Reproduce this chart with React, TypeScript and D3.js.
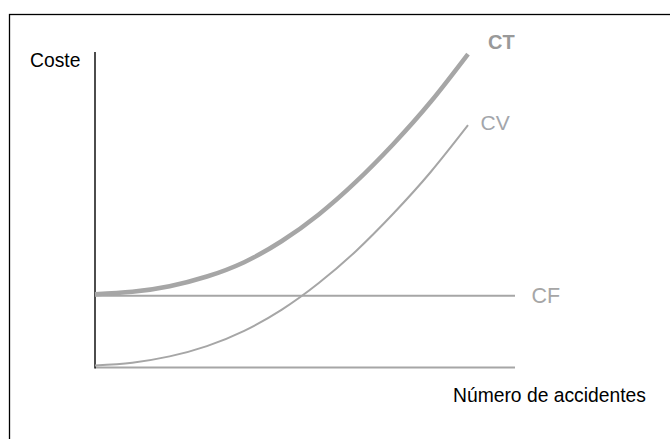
import React, { useEffect, useRef } from 'react';
import * as d3 from 'd3';

// number of accidents (x) and cost series
const accidents = [0, 1, 2, 3, 4, 5, 6, 7, 8, 9, 10];
const costVariable = [0.5, 1.4, 3.4, 6.7, 11.6, 18.3, 26.9, 37.2, 49.2, 62.5, 77.5];
const costTotal = [23.3, 24.1, 25.9, 29.0, 33.6, 40.3, 48.9, 59.4, 71.5, 85.0, 100.3];
const costFixed = [22.8, 22.8];
const fixedRange = [0, 11.26];
const axisMax = [11.26, 101];

const W = 670;
const H = 439;
const FONT = '"Liberation Sans", Arial, sans-serif';

const App: React.FC = () => {
  const svgRef = useRef<SVGSVGElement>(null);

  useEffect(() => {
    if (!svgRef.current) return;
    const svg = d3.select(svgRef.current);
    svg.selectAll('*').remove();

    const x = d3.scaleLinear().domain([0, 10]).range([95, 468]);
    const y = d3.scaleLinear().domain([0, 100]).range([367, 55]);

    // frame
    svg.append('rect')
      .attr('x', 9.5).attr('y', 14.5)
      .attr('width', W + 10).attr('height', H + 10)
      .attr('fill', 'none').attr('stroke', '#000').attr('stroke-width', 1.3);

    // x axis (grey)
    svg.append('line')
      .attr('x1', x(0)).attr('x2', x(axisMax[0]))
      .attr('y1', y(0) + 0.5).attr('y2', y(0) + 0.5)
      .attr('stroke', '#a6a6a6').attr('stroke-width', 2);

    // y axis (black)
    svg.append('line')
      .attr('x1', x(0)).attr('x2', x(0))
      .attr('y1', y(axisMax[1])).attr('y2', y(0) + 1.5)
      .attr('stroke', '#000').attr('stroke-width', 1.4);

    const line = d3.line<[number, number]>()
      .x(d => x(d[0]))
      .y(d => y(d[1]))
      .curve(d3.curveNatural);

    // CF
    svg.append('path')
      .datum(fixedRange.map((a, i) => [a, costFixed[i]] as [number, number]))
      .attr('d', line)
      .attr('fill', 'none').attr('stroke', '#a6a6a6').attr('stroke-width', 2);

    // CV
    svg.append('path')
      .datum(accidents.map((a, i) => [a, costVariable[i]] as [number, number]))
      .attr('d', line)
      .attr('fill', 'none').attr('stroke', '#a6a6a6').attr('stroke-width', 2);

    // CT
    svg.append('path')
      .datum(accidents.map((a, i) => [a, costTotal[i]] as [number, number]))
      .attr('d', line)
      .attr('fill', 'none').attr('stroke', '#a6a6a6').attr('stroke-width', 4.5);

    // series labels
    svg.append('text')
      .attr('x', 488).attr('y', 48.5)
      .attr('font-family', FONT).attr('font-size', 20).attr('font-weight', 'bold')
      .attr('fill', '#999').text('CT');
    svg.append('text')
      .attr('x', 480.5).attr('y', 129.5)
      .attr('font-family', FONT).attr('font-size', 21)
      .attr('fill', '#a3a6ab').text('CV');
    svg.append('text')
      .attr('x', 531.5).attr('y', 302.5)
      .attr('font-family', FONT).attr('font-size', 21.5)
      .attr('fill', '#a6a6a6').text('CF');

    // axis titles
    svg.append('text')
      .attr('x', 30).attr('y', 66.5)
      .attr('font-family', FONT).attr('font-size', 19.3)
      .attr('fill', '#000').text('Coste');
    svg.append('text')
      .attr('x', 453).attr('y', 401.5)
      .attr('font-family', FONT).attr('font-size', 19.3)
      .attr('fill', '#000').text('Número de accidentes');
  }, []);

  return (
    <svg
      ref={svgRef}
      width={W}
      height={H}
      style={{ position: 'absolute', left: 0, top: 0, background: '#fff' }}
    />
  );
};

export default App;
